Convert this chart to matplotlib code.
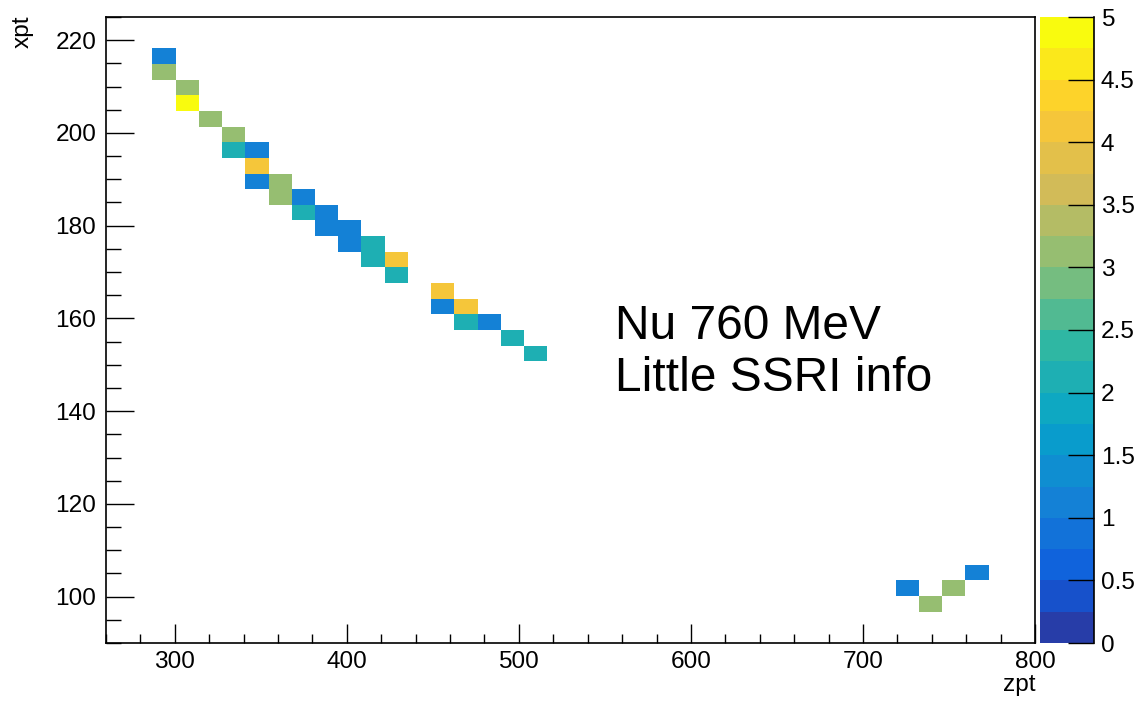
import numpy as np
import matplotlib
matplotlib.use("Agg")
import matplotlib.pyplot as plt
from matplotlib.colors import LinearSegmentedColormap, ListedColormap, BoundaryNorm
from matplotlib.ticker import MultipleLocator, FuncFormatter

plt.rcParams['font.family'] = ['Liberation Sans', 'DejaVu Sans']

# hit positions (zpt, xpt) and weights
zpt = [294, 294, 307, 307, 321, 334, 334, 348, 348, 348, 361, 361, 375, 375,
       388, 388, 402, 402, 415, 415, 429, 429, 456, 456, 469, 469, 483, 496,
       510, 726, 739, 753, 766]
xpt = [216.6, 213.2, 209.8, 206.4, 203.1, 199.7, 196.3, 196.3, 192.9, 189.6,
       189.6, 186.2, 186.2, 182.8, 182.8, 179.4, 179.4, 176.1, 176.1, 172.7,
       172.7, 169.3, 165.9, 162.6, 162.6, 159.2, 159.2, 155.8, 152.4, 101.8,
       98.4, 101.8, 105.2]
weight = [1, 3, 3, 5, 3, 3, 2, 1, 4, 1, 3, 3, 1, 2, 1, 1, 1, 1, 2, 2, 4, 2,
          4, 1, 4, 2, 1, 2, 2, 1, 3, 3, 1]

zbins = np.linspace(260, 800, 41)
xbins = np.linspace(90, 225, 41)
H, _, _ = np.histogram2d(zpt, xpt, bins=[zbins, xbins], weights=weight)
H = np.ma.masked_equal(H.T, 0)

# ROOT kBird palette, 20 contour levels
stops = [0.0, 0.125, 0.25, 0.375, 0.5, 0.625, 0.75, 0.875, 1.0]
red = [0.2082, 0.0592, 0.0780, 0.0232, 0.1802, 0.5301, 0.8186, 0.9956, 0.9764]
green = [0.1664, 0.3599, 0.5041, 0.6419, 0.7178, 0.7492, 0.7328, 0.7862, 0.9832]
blue = [0.5293, 0.8684, 0.8385, 0.7914, 0.6425, 0.4662, 0.3499, 0.1968, 0.0539]
bird = LinearSegmentedColormap.from_list(
    'bird', list(zip(stops, zip(red, green, blue))))
levels = np.linspace(0, 5, 21)
cmap = ListedColormap([bird((i + 1) / 20) for i in range(20)])
cmap.set_over(bird(1.0))
cmap.set_bad('white')
norm = BoundaryNorm(levels, cmap.N)

fig = plt.figure(figsize=(11.39, 7.01), dpi=100)
ax = fig.add_axes([106 / 1139, 1 - 643 / 701, 929 / 1139, 626 / 701])
mesh = ax.pcolormesh(zbins, xbins, H, cmap=cmap, norm=norm)

ax.set_xlim(260, 800)
ax.set_ylim(90, 225)
ax.xaxis.set_major_locator(MultipleLocator(100))
ax.xaxis.set_minor_locator(MultipleLocator(20))
ax.yaxis.set_major_locator(MultipleLocator(20))
ax.yaxis.set_minor_locator(MultipleLocator(5))
ax.tick_params(axis='x', which='major', direction='in', length=13.7, width=1, labelsize=17.6, pad=6)
ax.tick_params(axis='x', which='minor', direction='in', length=6.5, width=1)
ax.tick_params(axis='y', which='major', direction='in', length=20.5, width=1, labelsize=17.6, pad=7)
ax.tick_params(axis='y', which='minor', direction='in', length=11, width=1)
for s in ax.spines.values():
    s.set_linewidth(1.2)

fig.text(23 / 1139, 1 - 16 / 701, 'xpt', rotation=90, ha='center', va='top', fontsize=17.6)
fig.text(1036 / 1139, 1 - 691 / 701, 'zpt', ha='right', va='baseline', fontsize=17.6)

ax.text(556, 155.5, 'Nu 760 MeV', fontsize=34.5, va='baseline')
ax.text(556, 144.3, 'Little SSRI info', fontsize=34.5, va='baseline')

cax = fig.add_axes([1040 / 1139, 1 - 643 / 701, 54 / 1139, 626 / 701])
cb = fig.colorbar(mesh, cax=cax, ticks=np.arange(0, 5.01, 0.5))
cb.outline.set_visible(False)
cax.spines['right'].set_visible(True)
cax.spines['right'].set_linewidth(1.2)
cax.yaxis.set_major_formatter(FuncFormatter(lambda v, p: '%g' % v))
cax.tick_params(direction='in', length=18.7, width=1, labelsize=17.6, pad=5)
cax.minorticks_off()

fig.savefig('out.png', dpi=100)
